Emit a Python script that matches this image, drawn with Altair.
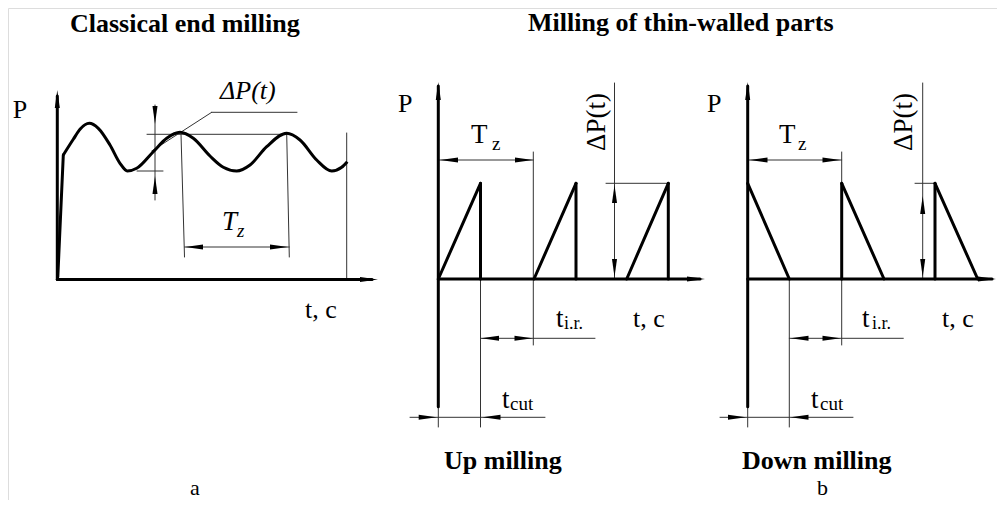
import altair as alt
import pandas as pd

# Canvas units: 1 unit = 1 px of the 1005x508 figure (y grows downward)
X_DOMAIN = [8, 997]
Y_DOMAIN = [8, 500]

# ---- panel a: classical end milling, force curve P(t) ----
curve_t = [63.3, 73.3, 80, 89.3, 98.3, 110, 120, 127.3, 136.7, 153.3, 166.7, 180,
           193.3, 210, 223.3, 236.7, 250, 266.7, 286.7, 300, 316.7, 331.7, 341.7, 347.3]
curve_p = [155, 139.3, 129.3, 123.3, 128.3, 145, 163.3, 171, 168.3, 151.7, 138.3, 132.3,
           138.3, 156, 167.3, 171, 165, 146.7, 133.3, 140, 160, 171, 167.3, 161.7]

# thick strokes: axes, run-in of the curve, saw-tooth force pulses (x1, y1, x2, y2)
thick_segments = [
    (57.3, 279.5, 57.3, 96), (57.3, 279.5, 372, 279.5), (57.8, 277, 63.3, 155),
    (438.3, 406.7, 438.3, 86), (438.3, 279, 700, 279),
    (438.3, 279, 480.5, 183.3), (480.5, 183.3, 480.5, 279),
    (534, 279, 576, 183.3), (576, 183.3, 576, 279),
    (626.7, 279, 668.3, 183.3), (668.3, 183.3, 668.3, 279),
    (747.7, 406.7, 747.7, 86), (747.7, 279, 992, 279),
    (747.7, 183.3, 789.3, 279),
    (841.7, 279, 841.7, 183.3), (841.7, 183.3, 884, 279),
    (935, 279, 935, 183.3), (935, 183.3, 977.7, 279),
]

# thin dimension / extension lines (x1, y1, x2, y2)
thin_segments = [
    (147, 134.3, 287, 134.3), (137, 171, 163, 171), (155, 105, 155, 200),
    (151.7, 151, 211.7, 112.3), (211.7, 112.3, 297, 112.3),
    (181, 134, 184.5, 257), (286.7, 134, 289.3, 257), (184.5, 247, 289.3, 247),
    (346.7, 133, 346.7, 279),
    (438.3, 160, 533.3, 160), (533.3, 152, 533.3, 345), (614.5, 83, 614.5, 279),
    (606, 183.3, 668.3, 183.3), (480.5, 279, 480.5, 427), (438.3, 406, 438.3, 427),
    (480.5, 338.3, 595, 338.3), (410, 417.3, 545, 417.3),
    (747.7, 160, 841.7, 160), (841.7, 152, 841.7, 345), (922.7, 83, 922.7, 279),
    (915, 183.3, 935, 183.3), (789.3, 279, 789.3, 427), (747.7, 406, 747.7, 427),
    (789.3, 338.3, 903.3, 338.3), (720, 417.3, 853, 417.3),
]

# arrowheads: tip x, tip y, direction (0 right, 90 down, 180 left, 270 up)
arrow_x = [57.3, 378, 155, 155, 185, 288,
           438.3, 705, 440, 533, 614.5, 614.5, 481, 532.5, 436.7, 482.5,
           747.7, 996, 749.5, 840.5, 922.7, 922.7, 790.5, 840.5, 746, 790.5]
arrow_y = [90, 279.5, 124, 176, 247, 247,
           82, 279, 160, 160, 185, 277, 338.3, 338.3, 417.3, 417.3,
           82, 279, 160, 160, 196, 277, 338.3, 338.3, 417.3, 417.3]
arrow_dir = [270, 0, 90, 270, 180, 0,
             270, 0, 180, 0, 270, 90, 180, 0, 0, 180,
             270, 0, 180, 0, 270, 90, 180, 0, 0, 180]

# text: label, left x, baseline y, font size
bold_labels = [
    ("Classical end milling", 70, 32, 26),
    ("Milling of thin-walled parts", 528, 31, 26),
    ("Up milling", 444, 469, 26),
    ("Down milling", 742, 469, 26),
]
plain_labels = [
    ("P", 12.7, 118.3, 26), ("P", 398, 112, 26), ("P", 707, 112, 26),
    ("t, c", 305, 318, 26), ("t, c", 633, 327, 26), ("t, c", 942, 327, 26),
    ("a", 190, 495, 22), ("b", 817, 495, 22),
    ("T", 471, 143, 27), ("z", 492, 150, 19),
    ("T", 779, 143, 27), ("z", 798, 150, 19),
    ("t", 556, 326.7, 27), ("i.r.", 564, 328.5, 18),
    ("t", 862, 326.7, 27), ("i.r.", 872, 328.5, 18),
    ("t", 502, 408, 27), ("cut", 510, 410, 19),
    ("t", 811, 408, 27), ("cut", 820, 410, 19),
]
italic_labels = [
    ("ΔP(t)", 220, 99, 26),
    ("T", 222, 230, 27), ("z", 237, 236.7, 19),
]
rotated_labels = [
    ("ΔP(t)", 597, 122, 27),
    ("ΔP(t)", 904, 122, 27),
]

FONT = "Liberation Serif"
xs = alt.Scale(domain=X_DOMAIN, nice=False, zero=False)
ys = alt.Scale(domain=Y_DOMAIN, nice=False, zero=False, reverse=True)


def seg_layer(segs, width, color):
    df = pd.DataFrame(segs, columns=["x", "y", "x2", "y2"])
    return alt.Chart(df).mark_rule(strokeWidth=width, color=color, strokeCap="round").encode(
        x=alt.X("x:Q", scale=xs, axis=None),
        y=alt.Y("y:Q", scale=ys, axis=None),
        x2="x2:Q", y2="y2:Q")


def text_layer(items, **kw):
    df = pd.DataFrame(items, columns=["label", "x", "y", "size"])
    return alt.Chart(df).mark_text(font=FONT, color="black", **kw).encode(
        x=alt.X("x:Q", scale=xs, axis=None),
        y=alt.Y("y:Q", scale=ys, axis=None),
        text="label:N",
        size=alt.Size("size:Q", scale=None, legend=None))


curve_df = pd.DataFrame({"t": curve_t, "p": curve_p})
curve = alt.Chart(curve_df).mark_line(color="black", strokeWidth=3, interpolate="monotone").encode(
    x=alt.X("t:Q", scale=xs, axis=None),
    y=alt.Y("p:Q", scale=ys, axis=None))

arrow_df = pd.DataFrame({"x": arrow_x, "y": arrow_y, "dir": arrow_dir})
arrows = alt.Chart(arrow_df).mark_point(
    shape="M0,0L-2,-0.28L-2,0.28Z", filled=True, size=324, color="black", opacity=1
).encode(
    x=alt.X("x:Q", scale=xs, axis=None),
    y=alt.Y("y:Q", scale=ys, axis=None),
    angle=alt.Angle("dir:Q", scale=None))

chart = alt.layer(
    seg_layer(thin_segments, 1, "#333333"),
    seg_layer(thick_segments, 3, "black"),
    curve,
    arrows,
    text_layer(bold_labels, align="left", baseline="alphabetic", fontWeight="bold"),
    text_layer(plain_labels, align="left", baseline="alphabetic"),
    text_layer(italic_labels, align="left", baseline="alphabetic", fontStyle="italic"),
    text_layer(rotated_labels, align="center", baseline="middle", angle=270),
).properties(
    width=989, height=492, padding=0, autosize=alt.AutoSizeParams(type="none")
).configure_view(stroke=None).configure(background="white")

chart.save("out.html", embed_options={"renderer": "svg", "actions": False})
